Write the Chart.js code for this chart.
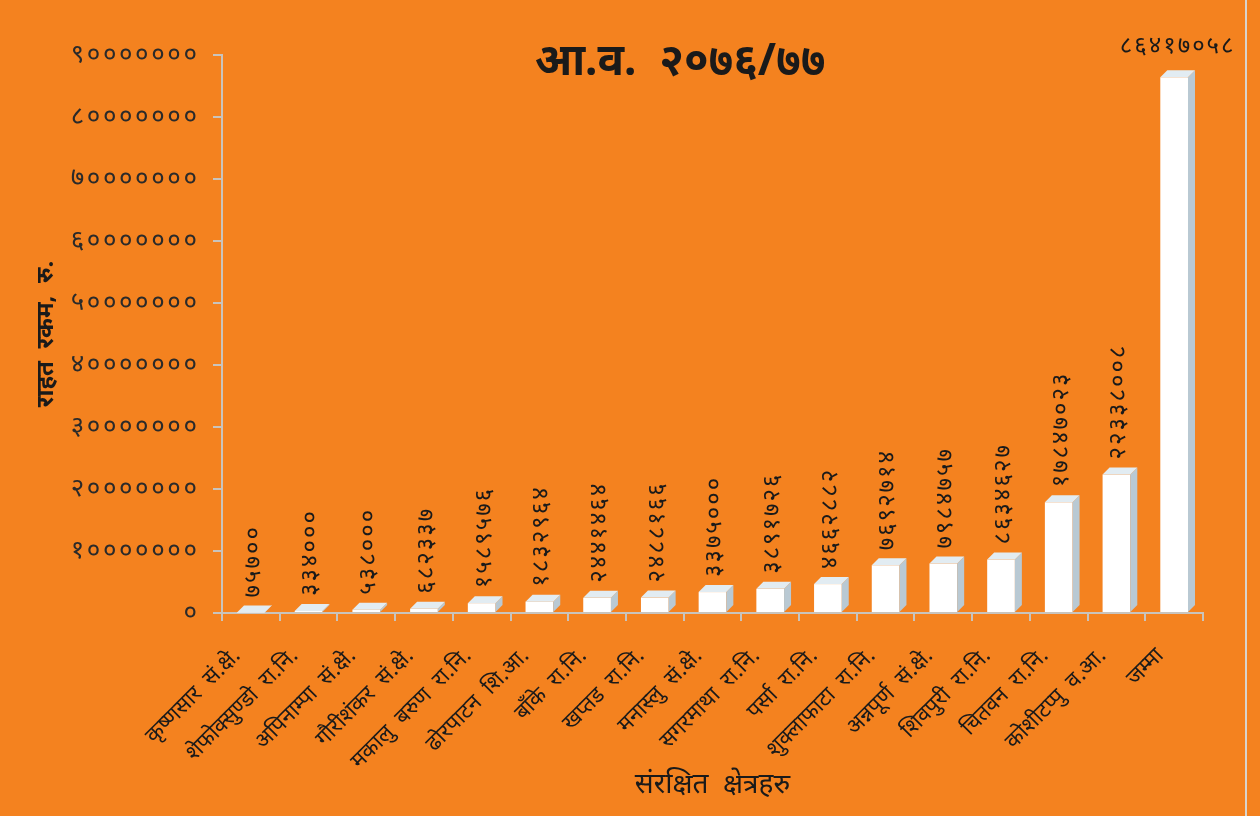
<!DOCTYPE html>
<html>
<head>
<meta charset="utf-8">
<script src="https://cdn.jsdelivr.net/npm/chart.js@4/dist/chart.umd.min.js"></script>
<style>
  html, body { margin: 0; padding: 0; background: #f4821f; }
  #wrap { position: relative; width: 1260px; height: 816px; }
  #wrap:after { content: ''; position: absolute; left: 1245px; top: 0; width: 2px; height: 816px; background: #d9d4cc; }
</style>
</head>
<body>
<div id="wrap"><canvas id="chart" width="1260" height="816"></canvas></div>
<script>
// संरक्षित क्षेत्रहरु र राहत रकम (रु.)
const areas = [
    'कृष्णसार  सं.क्षे.', 'शेफोक्सुण्डो  रा.नि.', 'अपिनाम्पा  सं.क्षे.', 'गौरीशंकर  सं.क्षे.',
    'मकालु  बरुण  रा.नि.', 'ढोरपाटन  शि.आ.', 'बाँके  रा.नि.', 'खप्तड  रा.नि.',
    'मनास्लु  सं.क्षे.', 'सगरमाथा  रा.नि.', 'पर्सा  रा.नि.', 'शुक्लाफाटा  रा.नि.',
    'अन्नपूर्ण  सं.क्षे.', 'शिवपुरी  रा.नि.', 'चितवन  रा.नि.', 'कोशीटप्पु  व.आ.', 'जम्मा'
];
const relief = [
    75700, 334000, 538000, 682337, 1589576, 1832964, 2441464, 2488166,
    3375000, 3891726, 4662882, 7692714, 7984757, 8634627, 17847023, 22338008, 86417058
];
const yMax = 90000000;
const yStep = 10000000;
const chartTitle = 'आ.व.  २०७६/७७';

const devDigits = ['०', '१', '२', '३', '४', '५', '६', '७', '८', '९'];
function toNepali(n, sep) {
    return String(n).split('').map(d => devDigits[+d]).join(sep || '');
}

const DEPTH = 7;
const FONT = '"Noto Sans", sans-serif';

// 3D faces + value labels for each bar
const bar3d = {
    id: 'bar3d',
    afterDatasetsDraw(chart) {
        const ctx = chart.ctx;
        const meta = chart.getDatasetMeta(0);
        meta.data.forEach((bar, i) => {
            const w = bar.width, l = bar.x - w / 2, r = bar.x + w / 2;
            const top = bar.y, base = bar.base;
            ctx.save();
            // side
            ctx.fillStyle = '#b9c9d3';
            ctx.beginPath();
            ctx.moveTo(r, top); ctx.lineTo(r + DEPTH, top - DEPTH);
            ctx.lineTo(r + DEPTH, base - DEPTH); ctx.lineTo(r, base);
            ctx.closePath(); ctx.fill();
            // top
            ctx.fillStyle = '#e2ecf2';
            ctx.beginPath();
            ctx.moveTo(l, top); ctx.lineTo(l + DEPTH, top - DEPTH);
            ctx.lineTo(r + DEPTH, top - DEPTH); ctx.lineTo(r, top);
            ctx.closePath(); ctx.fill();

            // value label
            ctx.fillStyle = '#1a1a1a';
            ctx.font = '24px ' + FONT;
            ctx.letterSpacing = '2px';
            const txt = toNepali(relief[i]);
            if (i === relief.length - 1) {
                ctx.textAlign = 'center';
                ctx.textBaseline = 'bottom';
                ctx.fillText(txt, bar.x + DEPTH / 2, 58);
            } else {
                ctx.translate(bar.x + 2, top - DEPTH - 8);
                ctx.rotate(-Math.PI / 2);
                ctx.textAlign = 'left';
                ctx.textBaseline = 'middle';
                ctx.fillText(txt, 0, 0);
            }
            ctx.restore();
        });
    }
};

const titlePlugin = {
    id: 'bigTitle',
    afterDraw(chart) {
        const ctx = chart.ctx;
        ctx.save();
        ctx.fillStyle = '#1a1a1a';
        ctx.font = 'bold 44px ' + FONT;
        ctx.textAlign = 'center';
        ctx.textBaseline = 'middle';
        ctx.fillText(chartTitle, 680, 62);
        ctx.restore();
    }
};

new Chart(document.getElementById('chart'), {
    type: 'bar',
    data: {
        labels: areas,
        datasets: [{
            data: relief,
            backgroundColor: '#ffffff',
            borderWidth: 0,
            categoryPercentage: 1,
            barPercentage: 0.48
        }]
    },
    options: {
        responsive: false,
        animation: false,
        layout: { padding: { top: 55, right: 57, left: 0, bottom: 0 } },
        plugins: { legend: { display: false }, tooltip: { enabled: false } },
        scales: {
            x: {
                afterFit(scale) { scale.height = 203; },
                border: { color: '#c9c4bd', width: 2 },
                grid: { offset: true, drawOnChartArea: false, color: '#c9c4bd', tickLength: 8, lineWidth: 2 },
                ticks: {
                    color: '#1a1a1a', autoSkip: false, maxRotation: 45, minRotation: 45,
                    padding: 22, labelOffset: -14,
                    font: { family: FONT, size: 22 }
                },
                title: {
                    display: true, text: 'संरक्षित  क्षेत्रहरु', color: '#1a1a1a',
                    font: { family: FONT, size: 28 },
                    padding: { top: 0, bottom: 14 }
                }
            },
            y: {
                min: 0, max: yMax,
                afterFit(scale) { scale.width = 222; },
                border: { color: '#c9c4bd', width: 2 },
                grid: { drawOnChartArea: false, color: '#c9c4bd', tickLength: 9, lineWidth: 2 },
                ticks: {
                    stepSize: yStep, color: '#2a2a2a', padding: 16,
                    font: { family: FONT, size: 26 },
                    callback: v => toNepali(v, '\u200A')
                },
                title: {
                    display: true, text: 'राहत  रकम,  रु.', color: '#1a1a1a',
                    font: { family: FONT, size: 24, weight: 'bold' },
                    padding: { top: 32, bottom: 0 }
                }
            }
        }
    },
    plugins: [bar3d, titlePlugin]
});
</script>
</body>
</html>
